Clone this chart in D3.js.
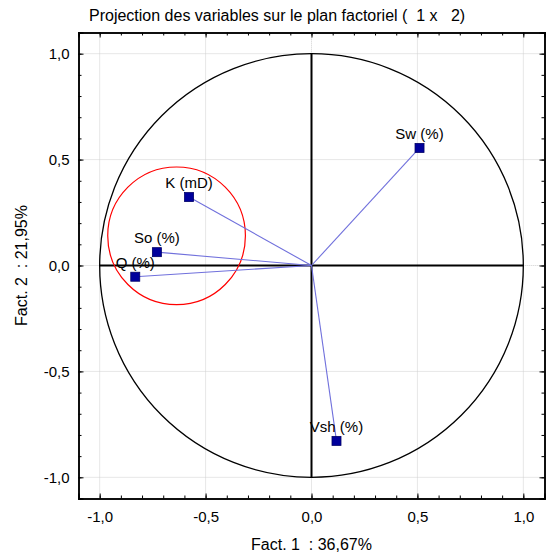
<!DOCTYPE html>
<html>
<head>
<meta charset="utf-8">
<script src="https://cdn.jsdelivr.net/npm/d3@7"></script>
<style>
  body { margin: 0; background: #fff; }
  svg { display: block; font-family: "Liberation Sans", Arial, sans-serif; }
</style>
</head>
<body>
<svg id="chart" width="547" height="556"></svg>
<script>
// variables projected on factor plane 1 x 2
const varNames = ["Sw (%)", "K (mD)", "So (%)", "Q (%)", "Vsh (%)"];
const fact1 = [0.510, -0.578, -0.730, -0.832, 0.118];
const fact2 = [0.555, 0.323, 0.063, -0.053, -0.828];

const majorTicks = [-1, -0.5, 0, 0.5, 1];
const minorTicks = d3.range(-11, 12).map(i => i / 10);

// red highlight circle (center + radius in factor units)
const highlight = { cx: -0.637, cy: 0.140, r: 0.325 };

const svg = d3.select("#chart");
const margin = { top: 32.5, right: 2.5, bottom: 57.5, left: 78.5 };
const width = 547 - margin.left - margin.right;
const height = 556 - margin.top - margin.bottom;
const g = svg.append("g").attr("transform", `translate(${margin.left},${margin.top})`);

const x = d3.scaleLinear().domain([-1.1, 1.1]).range([0, width]);
const y = d3.scaleLinear().domain([-1.1, 1.1]).range([height, 0]);
const fmt = d => d.toFixed(1).replace(".", ",");

// dotted grid
g.selectAll(".gx").data(majorTicks.filter(d => d !== 0)).join("line")
  .attr("x1", d => x(d)).attr("x2", d => x(d))
  .attr("y1", 0).attr("y2", height)
  .attr("stroke", "#cfcfcf").attr("stroke-dasharray", "1,1");
g.selectAll(".gy").data(majorTicks.filter(d => d !== 0)).join("line")
  .attr("y1", d => y(d)).attr("y2", d => y(d))
  .attr("x1", 0).attr("x2", width)
  .attr("stroke", "#cfcfcf").attr("stroke-dasharray", "1,1");
// grid at 0 outside the unit circle
[[-1.1, -1], [1, 1.1]].forEach(([a, b]) => {
  g.append("line").attr("x1", x(a)).attr("x2", x(b)).attr("y1", y(0)).attr("y2", y(0))
    .attr("stroke", "#cfcfcf").attr("stroke-dasharray", "1,1");
  g.append("line").attr("y1", y(a)).attr("y2", y(b)).attr("x1", x(0)).attr("x2", x(0))
    .attr("stroke", "#cfcfcf").attr("stroke-dasharray", "1,1");
});

// axes (ticks inside on all four sides)
const ax = (axis, scale) => axis(scale).tickValues(majorTicks).tickSize(-5).tickFormat(fmt).tickPadding(13);
const axMinor = (axis, scale) => axis(scale).tickValues(minorTicks).tickSize(-3).tickFormat("");

g.append("g").attr("transform", `translate(0,${height})`).call(axMinor(d3.axisBottom, x));
g.append("g").call(axMinor(d3.axisTop, x));
g.append("g").call(axMinor(d3.axisLeft, y));
g.append("g").attr("transform", `translate(${width},0)`).call(axMinor(d3.axisRight, y));

g.append("g").attr("class", "xa").attr("transform", `translate(0,${height})`).call(ax(d3.axisBottom, x));
g.append("g").call(ax(d3.axisTop, x).tickFormat(""));
g.append("g").attr("class", "ya").call(ax(d3.axisLeft, y).tickPadding(9));
g.append("g").attr("transform", `translate(${width},0)`).call(ax(d3.axisRight, y).tickFormat(""));

g.selectAll(".domain").attr("stroke", "#000").attr("stroke-width", 1.5);
g.selectAll(".tick line").attr("stroke", "#000");
g.selectAll(".xa text, .ya text").attr("font-size", "15px").attr("fill", "#000")
  .attr("font-family", "Liberation Sans, Arial, sans-serif");

// unit circle + cross
g.append("circle").attr("cx", x(0)).attr("cy", y(0)).attr("r", x(1) - x(0))
  .attr("fill", "none").attr("stroke", "#000").attr("stroke-width", 1.3);
g.append("line").attr("x1", x(-1)).attr("x2", x(1)).attr("y1", y(0)).attr("y2", y(0))
  .attr("stroke", "#000").attr("stroke-width", 2);
g.append("line").attr("x1", x(0)).attr("x2", x(0)).attr("y1", y(1)).attr("y2", y(-1))
  .attr("stroke", "#000").attr("stroke-width", 2);

// red circle
g.append("circle").attr("cx", x(highlight.cx)).attr("cy", y(highlight.cy))
  .attr("r", x(highlight.r) - x(0))
  .attr("fill", "none").attr("stroke", "#ff0000").attr("stroke-width", 1.2);

// vectors
const pts = varNames.map((n, i) => ({ name: n, f1: fact1[i], f2: fact2[i] }));
g.selectAll(".vec").data(pts).join("line")
  .attr("x1", x(0)).attr("y1", y(0))
  .attr("x2", d => x(d.f1)).attr("y2", d => y(d.f2))
  .attr("stroke", "#7070dc").attr("stroke-width", 1.1);

g.selectAll(".pt").data(pts).join("rect")
  .attr("x", d => x(d.f1) - 4.5).attr("y", d => y(d.f2) - 4.5)
  .attr("width", 9).attr("height", 9)
  .attr("fill", "#00009c").attr("stroke", "#000066").attr("stroke-width", 0.8);

g.selectAll(".lbl").data(pts).join("text")
  .attr("x", d => x(d.f1)).attr("y", d => y(d.f2) - 9)
  .attr("text-anchor", "middle").attr("font-size", "15px").attr("fill", "#000")
  .text(d => d.name);

// titles
svg.append("text").attr("x", 89).attr("y", 21).attr("font-size", "16px")
  .style("white-space", "pre")
  .text("Projection des variables sur le plan factoriel (  1 x   2)");
svg.append("text").attr("x", margin.left + x(0)).attr("y", 550).attr("text-anchor", "middle")
  .attr("font-size", "16px").style("white-space", "pre").text("Fact. 1  : 36,67%");
svg.append("text").attr("transform", `translate(27,${margin.top + y(0)}) rotate(-90)`)
  .attr("text-anchor", "middle").attr("font-size", "16px").style("white-space", "pre")
  .text("Fact. 2  : 21,95%");
</script>
</body>
</html>
